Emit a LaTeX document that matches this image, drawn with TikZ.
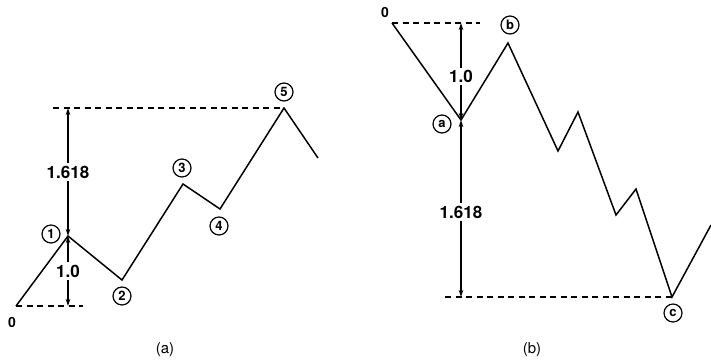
\documentclass[tikz,border=0pt]{standalone}
\usepackage{fontspec}
\setmainfont{TeX Gyre Heros}
\usetikzlibrary{arrows.meta}
\begin{document}
\begin{tikzpicture}[x=1pt,y=-1pt,
  wave/.style={line width=1.5pt, line join=miter},
  guide/.style={line width=1.1pt, dash pattern=on 6pt off 4.5pt},
  dim/.style={line width=1.2pt, {Stealth[length=7pt,width=4.5pt]}-{Stealth[length=7pt,width=4.5pt]}},
  lab/.style={circle, draw, line width=1.2pt, inner sep=0pt, minimum size=18pt, font=\fontsize{13}{13}\selectfont\bfseries},
  val/.style={fill=white, inner sep=2.5pt, font=\fontsize{17}{17}\selectfont\bfseries},
  zero/.style={inner sep=0pt, font=\fontsize{14}{14}\selectfont\bfseries},
  captext/.style={font=\fontsize{15}{15}\selectfont}]
\useasboundingbox (0,0) rectangle (711,360);
% ---------- panel (a)
\coordinate (a0) at (16,306);
\coordinate (a1) at (68,236);
\coordinate (a2) at (122,280);
\coordinate (a3) at (183,184);
\coordinate (a4) at (220,209);
\coordinate (a5) at (284,108);
\coordinate (a6) at (318,158);
\coordinate (atop) at (68,108);
\coordinate (abot) at (68,306);
\coordinate (aL) at (53,108);
\coordinate (aR) at (83,306);
\draw[guide] (aL) -- (a5);
\draw[guide] (a0) -- (aR);
\draw[wave] (a0) -- (a1) -- (a2) -- (a3) -- (a4) -- (a5) -- (a6);
\draw[dim] (atop) -- (a1) node[val, pos=0.5] (va1) {1.618};
\draw[dim] (a1) -- (abot) node[val, pos=0.5] (va2) {1.0};
\node[zero] (z0a) at (12,322) {0};
\node[lab] (l1) at (51,234) {1};
\node[lab] (l2) at (122,296) {2};
\node[lab] (l3) at (182,168) {3};
\node[lab] (l4) at (219,226) {4};
\node[lab] (l5) at (284,92) {5};
\node[captext] (capa) at (165,350) {(a)};
% ---------- panel (b)
\coordinate (b0) at (392,23);
\coordinate (ba) at (461,120);
\coordinate (bb) at (508,43);
\coordinate (b3) at (558,151);
\coordinate (b4) at (578,112);
\coordinate (b5) at (616,215);
\coordinate (b6) at (636,189);
\coordinate (bc) at (672,297);
\coordinate (b8) at (711,225);
\coordinate (btop) at (461,23);
\coordinate (bbot) at (461,297);
\coordinate (bR) at (480,23);
\coordinate (bL) at (445,297);
\draw[guide] (b0) -- (bR);
\draw[guide] (bL) -- (bc);
\draw[wave] (b0) -- (ba) -- (bb) -- (b3) -- (b4) -- (b5) -- (b6) -- (bc) -- (b8);
\draw[dim] (btop) -- (ba) node[val, pos=0.55] (vb1) {1.0};
\draw[dim] (ba) -- (bbot) node[val, pos=0.52] (vb2) {1.618};
\node[zero] (z0b) at (385,12) {0};
\node[lab] (la) at (442,124) {a};
\node[lab] (lb) at (510,25) {b};
\node[lab] (lc) at (673,313) {c};
\node[captext] (capb) at (532,350) {(b)};
\end{tikzpicture}
\end{document}
